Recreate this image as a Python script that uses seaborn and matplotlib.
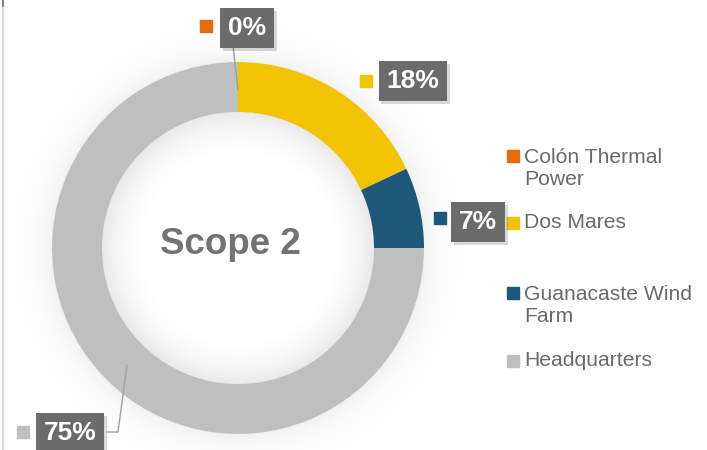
import numpy as np
import matplotlib.pyplot as plt
import matplotlib.patheffects as pe
import seaborn as sns

# data
sites = ['Colón Thermal Power', 'Dos Mares', 'Guanacaste Wind Farm', 'Headquarters']
legend_labels = ['Colón Thermal\nPower', 'Dos Mares', 'Guanacaste Wind\nFarm', 'Headquarters']
shares = [0, 18, 7, 75]
pct_labels = ['0%', '18%', '7%', '75%']
colors = ['#E46C0A', '#F2C300', '#1D5878', '#BFBFBF']

sns.set_theme(style='white')
plt.rcParams['font.family'] = ['Liberation Sans', 'DejaVu Sans']

W, H = 707, 450
fig = plt.figure(figsize=(7.07, 4.5), dpi=100)
ax = fig.add_axes([0, 0, 1, 1])

# donut geometry in pixels (y measured from top of image)
cx, cy, R, ring = 238, H - 248, 186, 50

# soft shading inside and around the ring
yy, xx = np.mgrid[0:H, 0:W]
r = np.hypot(xx + 0.5 - cx, (H - yy - 0.5) - cy)
alpha = np.zeros_like(r)
inner = r < R - ring
alpha[inner] = 0.16 * np.clip((r[inner] - 90) / (R - ring - 90), 0, 1) ** 2
outer = r > R
alpha[outer] = 0.10 * np.exp(-(r[outer] - R) / 14)
img = np.zeros((H, W, 4))
img[..., :3] = 0.45
img[..., 3] = alpha
ax.imshow(img, extent=(0, W, 0, H), zorder=0, interpolation='bilinear')

ax.pie(shares, colors=colors, startangle=90, counterclock=False,
       center=(cx, cy), radius=R, frame=True,
       wedgeprops=dict(width=ring, edgecolor='none', zorder=1))

ax.set_xlim(0, W)
ax.set_ylim(0, H)
ax.set_aspect('equal')
ax.axis('off')

ax.text(230, H - 245, 'Scope 2', ha='center', va='center', fontsize=26.5,
        fontweight='bold', color='#737373', zorder=3)

# data labels: (text centre, marker centre)
label_pos = [((247, 28), (206, 26)),
             ((413, 81), (366, 81)),
             ((478, 222), (440, 218)),
             ((70, 433), (23, 432))]
for lab, col, (tpos, mpos) in zip(pct_labels, colors, label_pos):
    t = ax.text(tpos[0], H - tpos[1], lab, ha='center', va='center', color='white',
                fontsize=19, fontweight='bold', zorder=5,
                bbox=dict(boxstyle='square,pad=0.3', fc='#6B6B6B', ec='none'))
    t.get_bbox_patch().set_path_effects(
        [pe.withSimplePatchShadow(offset=(2, -2), shadow_rgbFace='black', alpha=0.15)])
    ax.plot(mpos[0], H - mpos[1], marker='s', markersize=8.6, color=col,
            linestyle='none', zorder=5)

# leader lines
ax.plot([233, 238], [H - 46, H - 90], color='#A0A0A0', lw=1, zorder=4)
ax.plot([107, 118, 127], [H - 432, H - 432, H - 365], color='#A0A0A0', lw=1, zorder=4)

# legend
legend_y = [168.5, 223, 305, 361]
legend_marker_y = [156, 223, 293, 361]
for lab, col, ty, my in zip(legend_labels, colors, legend_y, legend_marker_y):
    ax.plot(513, H - my, marker='s', markersize=8, color=col, linestyle='none')
    ax.text(524, H - ty, lab, ha='left', va='center', fontsize=15.2,
            color='#6A6A6A', linespacing=1.2)

# left chart border
ax.plot([3, 3], [0, H - 6], color='#D9D9D9', lw=1.5)
ax.plot([3, 3], [H - 6, H], color='#808080', lw=1.5)

fig.savefig('out.png', dpi=100)
